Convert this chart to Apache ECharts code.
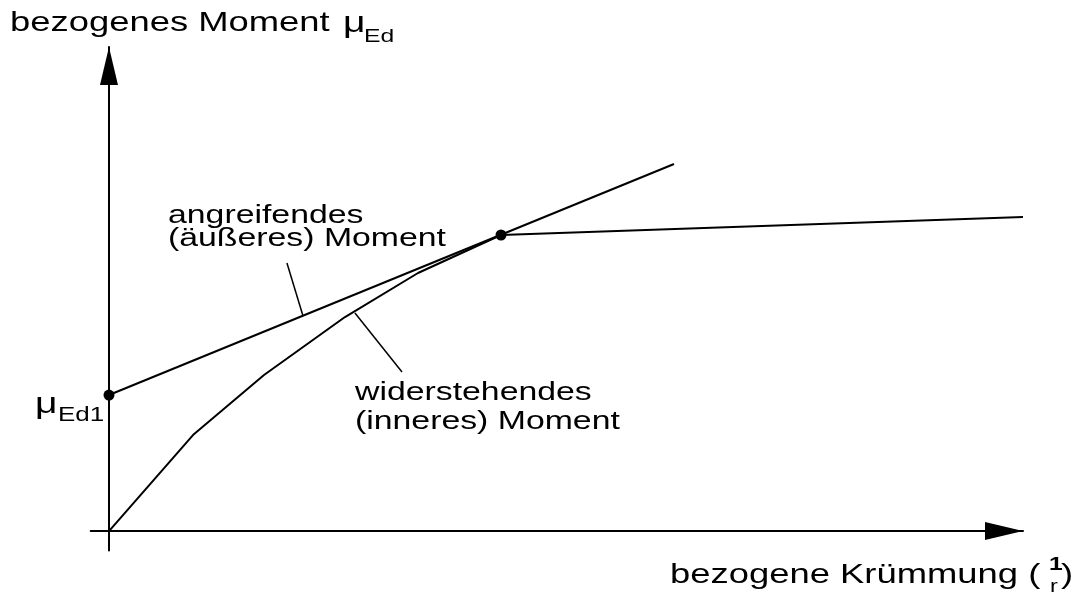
<!DOCTYPE html>
<html>
<head>
<meta charset="utf-8">
<script src="https://cdn.jsdelivr.net/npm/echarts@6/dist/echarts.min.js"></script>
<style>
  html, body { margin: 0; padding: 0; background: #fff; }
  #chart { width: 1085px; height: 593px; }
</style>
</head>
<body>
<div id="chart"></div>
<script>
var widerstehend = [[0, 0], [9.19, 19.83], [16.96, 32.23], [25.82, 44.21], [33.81, 53.31], [42.89, 61.16], [100, 64.88]];
var angreifend = [[0, 28.10], [61.82, 75.83]];
var punkte = [[0, 28.10], [42.89, 61.16]];
var hinweisAngreifend = [[19.47, 55.37], [21.23, 44.42]];
var hinweisWiderstehend = [[26.91, 45.04], [32.06, 32.85]];

var chartDom = document.getElementById('chart');
var myChart = echarts.init(chartDom);
var font = '"Liberation Sans", Arial, sans-serif';
var sx = 1.3; // Schrift im Original horizontal gestreckt

function txt(x, y, text, size, extra) {
  return {
    type: 'text', x: x, y: y, scaleX: sx,
    style: Object.assign({
      text: text, fontFamily: font, fontSize: size, fill: '#000',
      align: 'left', verticalAlign: 'middle'
    }, extra || {})
  };
}

function linie(data, width) {
  return {
    type: 'line', data: data, symbol: 'none', silent: true,
    lineStyle: { color: '#000', width: width }
  };
}

var option = {
  animation: false,
  backgroundColor: '#fff',
  grid: { left: 90.7, right: 62, top: 47, bottom: 42.6 },
  xAxis: {
    type: 'value', min: -2, max: 100,
    axisLine: { onZero: true, lineStyle: { color: '#000', width: 2 }, symbol: ['none', 'triangle'], symbolSize: [18, 38], symbolOffset: [0, -19] },
    axisTick: { show: false }, axisLabel: { show: false }, splitLine: { show: false }
  },
  yAxis: {
    type: 'value', min: -4, max: 100,
    axisLine: { onZero: true, lineStyle: { color: '#000', width: 2 }, symbol: ['none', 'triangle'], symbolSize: [18, 38], symbolOffset: [0, -19] },
    axisTick: { show: false }, axisLabel: { show: false }, splitLine: { show: false }
  },
  series: [
    linie(widerstehend, 2),
    linie(angreifend, 2),
    linie(hinweisAngreifend, 1.5),
    linie(hinweisWiderstehend, 1.5),
    {
      type: 'scatter', data: punkte, symbolSize: 11, silent: true,
      itemStyle: { color: '#000', opacity: 1 }
    }
  ],
  graphic: [
    txt(10, 23, 'bezogenes Moment', 28),
    txt(343, 24, 'μ', 30),
    txt(364, 37, 'Ed', 19),
    txt(168, 216, 'angreifendes', 26),
    txt(168, 239, '(äußeres) Moment', 26),
    txt(355, 393, 'widerstehendes', 26),
    txt(355, 422, '(inneres) Moment', 26),
    txt(35, 405, 'μ', 30),
    txt(58, 415, 'Ed1', 20),
    txt(670, 575, 'bezogene Krümmung (', 28),
    txt(1049, 565, '1', 19, { fontWeight: 'bold' }),
    txt(1050, 587, 'r', 18),
    txt(1061, 575, ')', 28)
  ]
};
myChart.setOption(option);
</script>
</body>
</html>
